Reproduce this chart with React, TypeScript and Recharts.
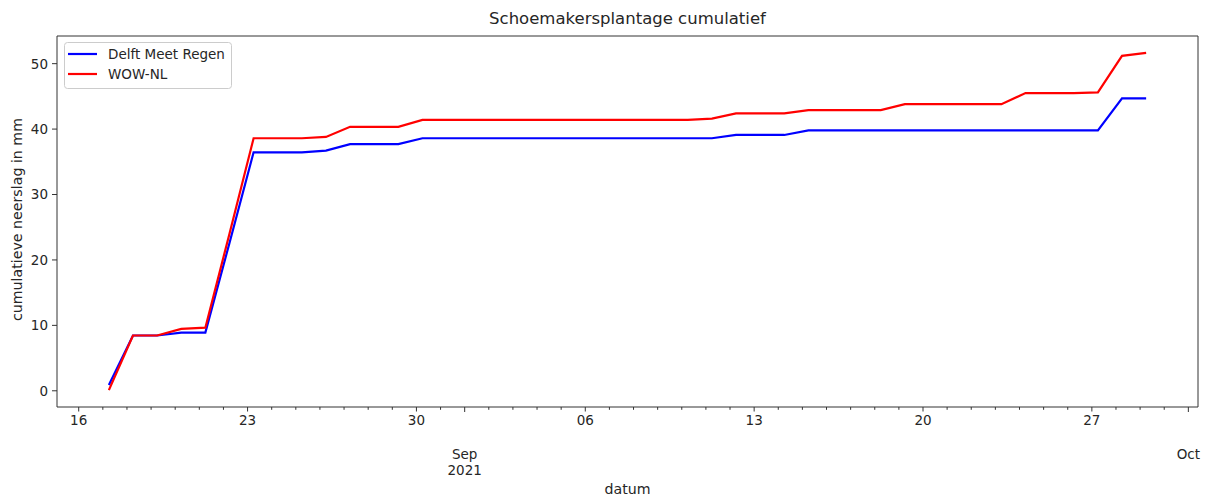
import React from 'react';
import { LineChart, Line, XAxis, YAxis, ReferenceArea, Legend, Label } from 'recharts';

// Daily cumulative rainfall readings (mm), Schoemakersplantage, Delft
const dates = [
  '2021-08-17', '2021-08-18', '2021-08-19', '2021-08-20', '2021-08-21', '2021-08-22',
  '2021-08-23', '2021-08-24', '2021-08-25', '2021-08-26', '2021-08-27', '2021-08-28',
  '2021-08-29', '2021-08-30', '2021-08-31', '2021-09-01', '2021-09-02', '2021-09-03',
  '2021-09-04', '2021-09-05', '2021-09-06', '2021-09-07', '2021-09-08', '2021-09-09',
  '2021-09-10', '2021-09-11', '2021-09-12', '2021-09-13', '2021-09-14', '2021-09-15',
  '2021-09-16', '2021-09-17', '2021-09-18', '2021-09-19', '2021-09-20', '2021-09-21',
  '2021-09-22', '2021-09-23', '2021-09-24', '2021-09-25', '2021-09-26', '2021-09-27',
  '2021-09-28', '2021-09-29',
];

const delftMeetRegen = [
  0.9, 8.45, 8.45, 8.9, 8.9, 22.6,
  36.45, 36.45, 36.45, 36.7, 37.7, 37.7,
  37.7, 38.6, 38.6, 38.6, 38.6, 38.6,
  38.6, 38.6, 38.6, 38.6, 38.6, 38.6,
  38.6, 38.6, 39.1, 39.1, 39.1, 39.8,
  39.8, 39.8, 39.8, 39.8, 39.8, 39.8,
  39.8, 39.8, 39.8, 39.8, 39.8, 39.8,
  44.7, 44.7,
];

const wowNl = [
  0.1, 8.45, 8.45, 9.45, 9.65, 24.0,
  38.6, 38.6, 38.6, 38.8, 40.35, 40.35,
  40.35, 41.4, 41.4, 41.4, 41.4, 41.4,
  41.4, 41.4, 41.4, 41.4, 41.4, 41.4,
  41.4, 41.6, 42.4, 42.4, 42.4, 42.9,
  42.9, 42.9, 42.9, 43.8, 43.8, 43.8,
  43.8, 43.8, 45.5, 45.5, 45.5, 45.6,
  51.2, 51.65,
];

const yTicks = [0, 10, 20, 30, 40, 50];
const monthNames = ['Jan', 'Feb', 'Mar', 'Apr', 'May', 'Jun', 'Jul', 'Aug', 'Sep', 'Oct', 'Nov', 'Dec'];

const seriesNames = { delft: 'Delft Meet Regen', wow: 'WOW-NL' };
const seriesColors = { delft: '#0000ff', wow: '#ff0000' };

const DAY_MS = 86400000;
// readings are taken in the morning, so each point sits a quarter day past midnight
const READING_HOUR = 6;
const toDays = (iso: string) => Date.parse(`${iso}T00:00:00Z`) / DAY_MS + READING_HOUR / 24;

const data = dates.map((d, i) => ({
  t: toDays(d),
  delft: delftMeetRegen[i],
  wow: wowNl[i],
}));

// 5% padding on each side of the data range
const padRange = (lo: number, hi: number): [number, number] => {
  const p = (hi - lo) * 0.05;
  return [lo - p, hi + p];
};
const tVals = data.map((r) => r.t);
const xDomain = padRange(Math.min(...tVals), Math.max(...tVals));
const allVals = [...delftMeetRegen, ...wowNl];
const yDomain = padRange(Math.min(...allVals), Math.max(...allVals));

// one tick per day (midnight UTC)
const xTicks: number[] = [];
for (let d = Math.ceil(xDomain[0]); d <= xDomain[1]; d++) xTicks.push(d);
const firstMonthTick = xTicks.find((d) => new Date(d * DAY_MS).getUTCDate() === 1);

const FONT = 'DejaVu Sans, sans-serif';
const INK = '#262626';
const AXIS = '#333333';
const TICK_FS = 13.5;

const DateTick = (props: any) => {
  const { x, y, payload } = props;
  const d = new Date(payload.value * DAY_MS);
  const dom = d.getUTCDate();
  const isMonday = d.getUTCDay() === 1;
  const isMonthStart = dom === 1;
  const len = isMonthStart ? 5 : isMonday ? 4.5 : 2.8;
  return (
    <g>
      <line x1={x} x2={x} y1={y} y2={y + len} stroke={AXIS} strokeWidth={1} />
      {isMonday && (
        <text x={x} y={y + 18} textAnchor="middle" fontSize={TICK_FS} fontFamily={FONT} fill={INK}>
          {String(dom).padStart(2, '0')}
        </text>
      )}
      {isMonthStart && (
        <text x={x} y={y + 51.5} textAnchor="middle" fontSize={TICK_FS} fontFamily={FONT} fill={INK}>
          {monthNames[d.getUTCMonth()]}
        </text>
      )}
      {isMonthStart && payload.value === firstMonthTick && (
        <text x={x} y={y + 67.5} textAnchor="middle" fontSize={TICK_FS} fontFamily={FONT} fill={INK}>
          {d.getUTCFullYear()}
        </text>
      )}
    </g>
  );
};

const ValueTick = (props: any) => {
  const { x, y, payload } = props;
  return (
    <g>
      <line x1={x - 5} x2={x} y1={y} y2={y} stroke={AXIS} strokeWidth={1} />
      <text x={x - 9} y={y} dy="0.36em" textAnchor="end" fontSize={TICK_FS} fontFamily={FONT} fill={INK}>
        {payload.value}
      </text>
    </g>
  );
};

const LegendBox = () => {
  const rows = [
    { key: 'delft', y: 12 },
    { key: 'wow', y: 32 },
  ] as const;
  return (
    <svg width={170} height={48} style={{ display: 'block', overflow: 'visible' }}>
      <rect x={0.5} y={0.5} width={167} height={46} rx={3} fill="#ffffff" fillOpacity={0.8} stroke="#cccccc" />
      {rows.map((r) => (
        <g key={r.key}>
          <line x1={4} x2={33} y1={r.y} y2={r.y} stroke={seriesColors[r.key]} strokeWidth={2.2} />
          <text x={44} y={r.y} dy="0.36em" fontSize={TICK_FS} fontFamily={FONT} fill={INK}>
            {seriesNames[r.key]}
          </text>
        </g>
      ))}
    </svg>
  );
};

const YTitle = (props: any) => {
  const { viewBox } = props;
  const cx = 17;
  const cy = viewBox.y + viewBox.height / 2 - 2;
  return (
    <text
      x={cx}
      y={cy}
      dy="0.36em"
      textAnchor="middle"
      transform={`rotate(-90 ${cx} ${cy})`}
      fontSize={14.2}
      fontFamily={FONT}
      fill={INK}
    >
      cumulatieve neerslag in mm
    </text>
  );
};

const XTitle = (props: any) => {
  const { viewBox } = props;
  const cx = viewBox.x + viewBox.width / 2;
  return (
    <text x={cx} y={489} dy="0.36em" textAnchor="middle" fontSize={14.2} fontFamily={FONT} fill={INK}>
      datum
    </text>
  );
};

export default function App() {
  return (
    <div style={{ position: 'absolute', left: 0, top: 0, width: 1207, height: 497, background: '#ffffff' }}>
      <div
        style={{
          position: 'absolute',
          left: 57,
          width: 1141,
          top: 9,
          textAlign: 'center',
          fontFamily: FONT,
          fontSize: 16.5,
          color: INK,
          lineHeight: '20px',
          whiteSpace: 'nowrap',
        }}
      >
        Schoemakersplantage cumulatief
      </div>
      <LineChart width={1207} height={497} data={data} margin={{ top: 36, right: 9, bottom: 0, left: 0 }}>
        <XAxis
          dataKey="t"
          type="number"
          domain={xDomain}
          ticks={xTicks}
          interval={0}
          allowDataOverflow
          axisLine={false}
          tickLine={false}
          tickSize={0}
          tickMargin={0}
          height={90}
          tick={<DateTick />}
        >
          <Label content={<XTitle />} />
        </XAxis>
        <YAxis
          type="number"
          domain={yDomain}
          ticks={yTicks}
          interval={0}
          allowDataOverflow
          axisLine={false}
          tickLine={false}
          tickSize={0}
          tickMargin={0}
          width={57}
          tick={<ValueTick />}
        >
          <Label content={<YTitle />} />
        </YAxis>
        <ReferenceArea
          x1={xDomain[0]}
          x2={xDomain[1]}
          y1={yDomain[0]}
          y2={yDomain[1]}
          fill="none"
          fillOpacity={0}
          stroke={AXIS}
          strokeWidth={1}
          ifOverflow="visible"
        />
        <Line
          type="linear"
          dataKey="delft"
          name={seriesNames.delft}
          stroke={seriesColors.delft}
          strokeWidth={2.2}
          dot={false}
          activeDot={false}
          isAnimationActive={false}
        />
        <Line
          type="linear"
          dataKey="wow"
          name={seriesNames.wow}
          stroke={seriesColors.wow}
          strokeWidth={2.2}
          dot={false}
          activeDot={false}
          isAnimationActive={false}
        />
        <Legend
          layout="vertical"
          align="center"
          verticalAlign="middle"
          content={<LegendBox />}
          wrapperStyle={{ position: 'absolute', left: 64, top: 42, width: 170, height: 48, margin: 0 }}
        />
      </LineChart>
    </div>
  );
}
